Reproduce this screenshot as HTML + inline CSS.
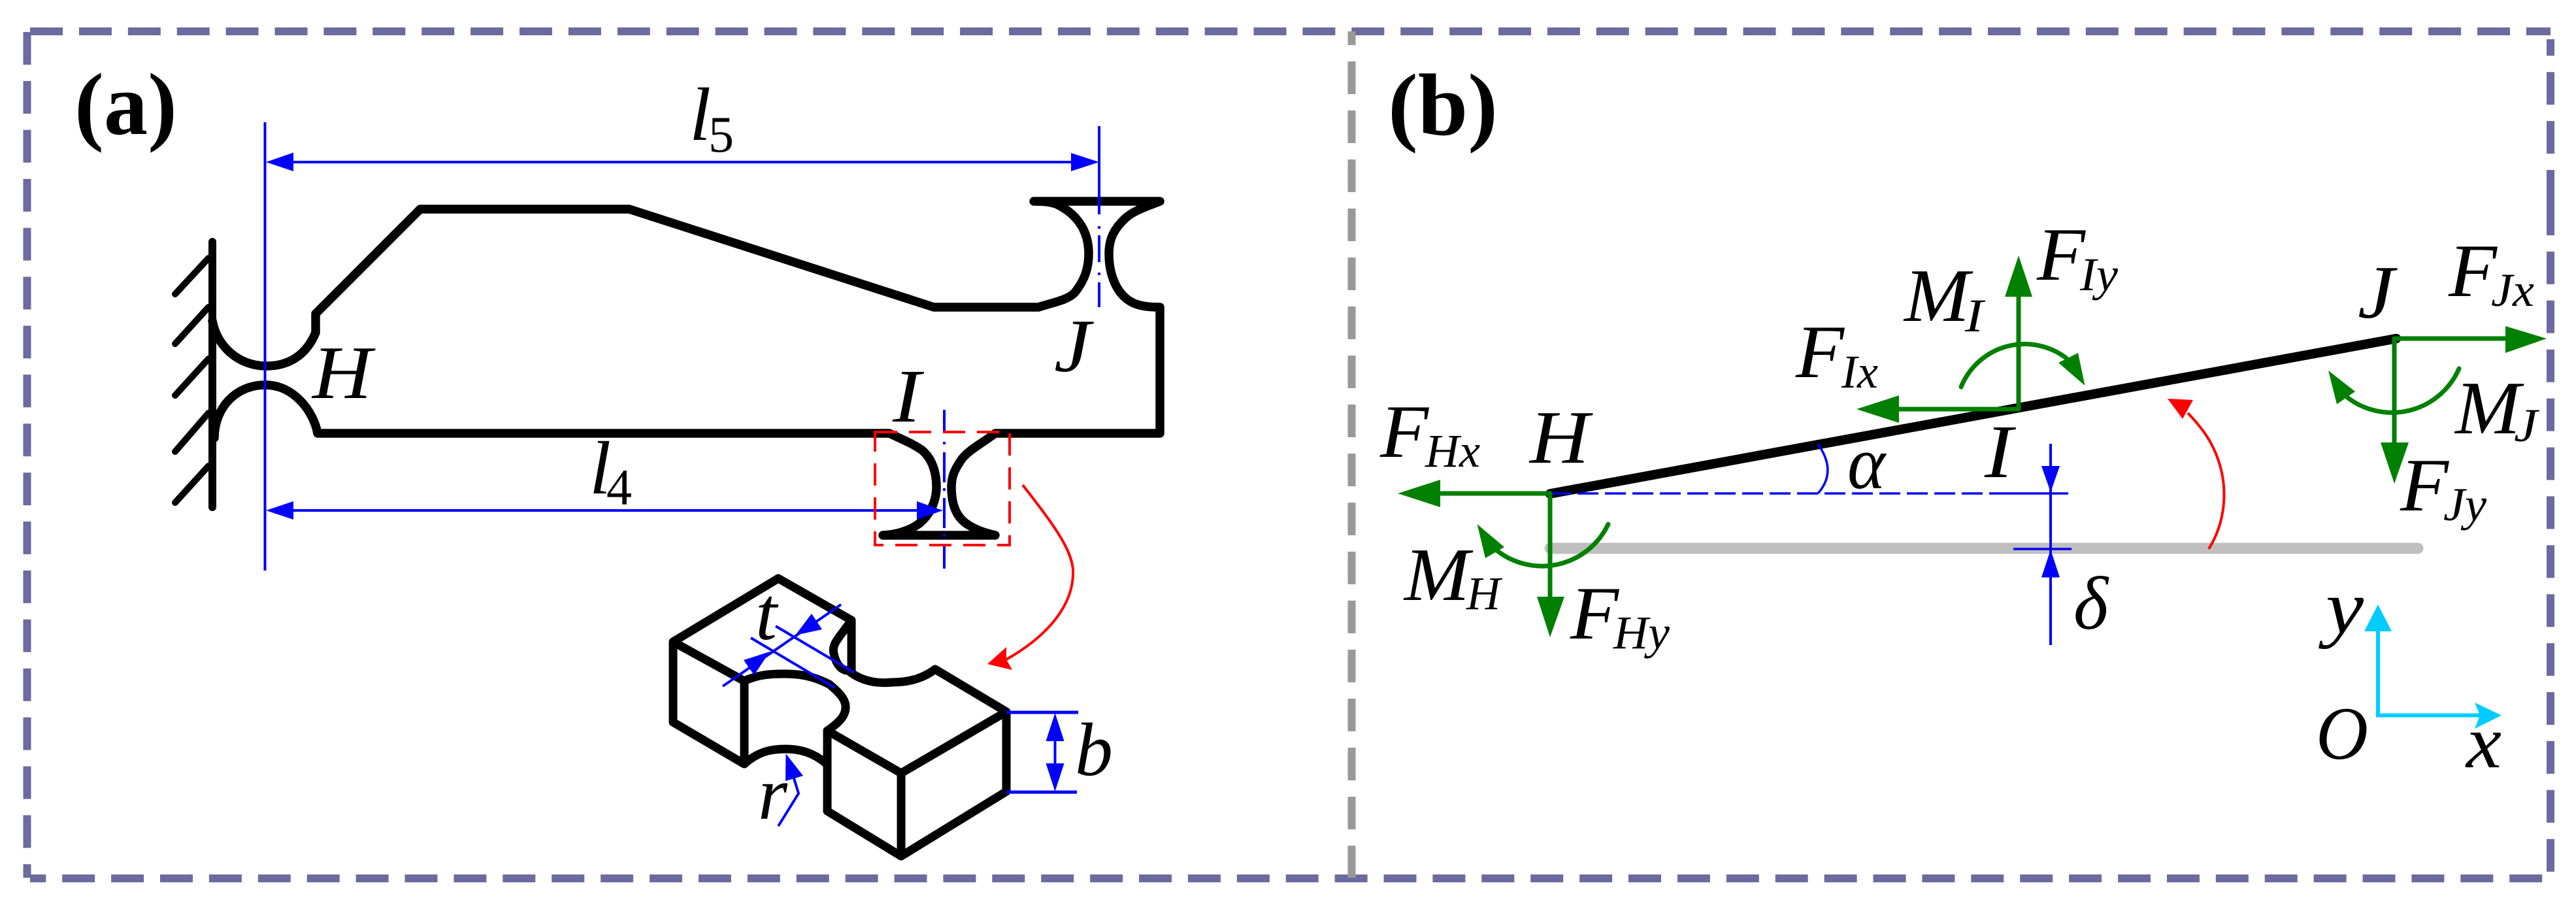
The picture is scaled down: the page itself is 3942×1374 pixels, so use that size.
<!DOCTYPE html>
<html><head><meta charset="utf-8"><style>
html,body{margin:0;padding:0;background:#fff}
svg{display:block}
text{font-family:"Liberation Serif","Times New Roman",Times,serif;fill:#000}
.i{font-style:italic;font-size:116px}
.s{font-style:italic;font-size:72px}
.n{font-size:78px}
.b{font-weight:bold;font-size:135px}
</style></head><body>
<svg xmlns="http://www.w3.org/2000/svg" width="3942" height="1374" viewBox="0 0 3942 1374" font-family="Liberation Serif, Times New Roman, Times, serif">
<rect width="3942" height="1374" fill="#fff"/>
<!-- frames -->
<g stroke="#6b6b9f" stroke-width="12" fill="none" stroke-dasharray="50 24.9">
<line x1="46" y1="48" x2="3903" y2="48"/>
<line x1="46" y1="1344" x2="3900" y2="1344" stroke-dashoffset="25.7"/>
<line x1="41.5" y1="49" x2="41.5" y2="1343"/>
<line x1="3903" y1="310" x2="3903" y2="1335"/>
<line x1="3903" y1="310" x2="3903" y2="60" />
</g>
<line x1="2068.5" y1="48" x2="2068.5" y2="1343" stroke="#999" stroke-width="12" stroke-dasharray="50 25" stroke-dashoffset="29" fill="none"/>

<!-- panel a labels -->
<text class="b" x="114" y="205" textLength="157" lengthAdjust="spacingAndGlyphs">(a)</text>
<text class="b" x="2124" y="206" textLength="168" lengthAdjust="spacingAndGlyphs">(b)</text>

<!-- wall -->
<g stroke="#000" stroke-width="10" stroke-linecap="round" fill="none">
<line x1="325" y1="370" x2="325" y2="776" stroke-width="12"/>
<line x1="319" y1="395" x2="268" y2="450"/>
<line x1="319" y1="470" x2="268" y2="526"/>
<line x1="319" y1="549" x2="268" y2="605"/>
<line x1="319" y1="632" x2="268" y2="691"/>
<line x1="319" y1="713" x2="268" y2="769"/>
</g>
<!-- flexure outline -->
<g stroke="#000" stroke-width="13.5" stroke-linecap="round" stroke-linejoin="round" fill="none">
<path d="M325 491 C332 530 365 560 408 560 C440 560 468 545 483 509 L483 480 L643 320 L963 320 L1429 470 L1589 470 C1615 462 1637 458 1646 446 C1660 428 1666 410 1666 388 C1666 355 1650 330 1622 315 C1612 309 1598 308 1582 308 L1775 308 C1755 316 1735 322 1722 334 C1705 350 1697 365 1697 388 C1697 420 1708 445 1725 458 C1738 468 1755 470 1775 470 L1775 663 L1523 663 C1500 680 1480 690 1470 705 C1460 720 1456 730 1456 745 C1456 770 1462 790 1480 802 C1495 812 1510 816 1523 819 L1351 819 C1375 818 1395 810 1408 800 C1425 785 1433 765 1433 745 C1433 720 1425 700 1410 688 C1395 678 1380 672 1361 663 L486 663 C480 630 450 589 406 589 C360 589 328 625 328 670"/>
</g>
<!-- blue dims a -->
<g stroke="#0000ff" stroke-width="4" fill="none">
<line x1="405.5" y1="187" x2="405.5" y2="873"/>
<line x1="440" y1="248" x2="1645" y2="248"/>
<line x1="1682" y1="193" x2="1682" y2="328"/>
<line x1="1682" y1="346" x2="1682" y2="350"/>
<line x1="1682" y1="360" x2="1682" y2="401"/>
<line x1="1682" y1="417" x2="1682" y2="421"/>
<line x1="1682" y1="432" x2="1682" y2="470"/>
<line x1="440" y1="781" x2="1410" y2="781"/>
<line x1="1445" y1="627" x2="1445" y2="662"/>
<line x1="1445" y1="676" x2="1445" y2="680"/>
<line x1="1445" y1="692" x2="1445" y2="738"/>
<line x1="1445" y1="747" x2="1445" y2="751"/>
<line x1="1445" y1="762" x2="1445" y2="808"/>
<line x1="1445" y1="817" x2="1445" y2="821"/>
<line x1="1445" y1="835" x2="1445" y2="870"/>
</g>
<g fill="#0000ff">
<polygon points="407,248 449,233.5 449,262"/>
<polygon points="1682,248 1639,234 1639,262"/>
<polygon points="407,781 449,767 449,795"/>
<polygon points="1443,781 1403,767 1403,795"/>
</g>
<!-- red box and arrow -->
<rect x="1339" y="661" width="206" height="173" fill="none" stroke="#ff0000" stroke-width="4" stroke-dasharray="34 18"/>
<path d="M1565 742 C1610 800 1645 845 1642 880 C1640 930 1600 975 1540 1009" fill="none" stroke="#ff0000" stroke-width="4"/>
<polygon points="1511,1016 1540,990 1540,1009 1549,1025" fill="#ff0000"/>
<!-- block -->
<g stroke="#000" stroke-width="13" stroke-linejoin="round" fill="none">
<path d="M1139 1042 L1030 982 L1191 885 L1303 949 C1285 975 1272 985 1276 1000 C1280 1020 1290 1026 1298 1026 C1320 1044 1345 1046 1365 1044 C1395 1044 1415 1036 1431 1024 L1540 1089 L1540 1211 L1379 1310 L1266 1241 L1266 1118 L1379 1183 L1540 1089"/>
<path d="M1030 982 L1030 1105 L1139 1169 L1139 1042 C1160 1032 1180 1031 1202 1031 C1235 1031 1255 1040 1269 1047 C1285 1060 1294 1070 1294 1082 C1294 1095 1285 1105 1266 1118"/>
<path d="M1139 1169 C1160 1150 1180 1146 1202 1146 C1225 1146 1245 1152 1264 1168"/>
<path d="M1303 949 L1303 1026"/>
<path d="M1379 1183 L1379 1310"/>
</g>
<!-- blue on block -->
<g stroke="#0000ff" stroke-width="4" fill="none">
<line x1="1187" y1="958" x2="1307" y2="1029"/>
<line x1="1149" y1="976" x2="1277" y2="1052"/>
<line x1="1106" y1="1050" x2="1287" y2="925"/>
<line x1="1540" y1="1090" x2="1650" y2="1090" stroke-width="5"/>
<line x1="1540" y1="1212" x2="1648" y2="1212" stroke-width="5"/>
<line x1="1614.5" y1="1130" x2="1614.5" y2="1170"/>
<polyline points="1191,1264 1222,1214 1215,1191"/>
</g>
<g fill="#0000ff">
<polygon points="1178,997 1138,1010 1154,1033"/>
<polygon points="1217,972 1242,939 1258,963"/>
<polygon points="1614.5,1091 1600.5,1134 1628.5,1134"/>
<polygon points="1614.5,1211 1600.5,1168 1628.5,1168"/>
<polygon points="1202.5,1153 1202,1195 1229,1187"/>
</g>

<!-- labels a -->
<text class="i" x="478" y="609" textLength="91" lengthAdjust="spacingAndGlyphs">H</text>
<text class="i" x="1055" y="214" textLength="33" lengthAdjust="spacingAndGlyphs">l</text><text class="n" x="1084" y="232" textLength="39" lengthAdjust="spacingAndGlyphs">5</text>
<text class="i" x="1613" y="568" textLength="56" lengthAdjust="spacingAndGlyphs">J</text>
<text class="i" x="1366" y="645" textLength="43" lengthAdjust="spacingAndGlyphs">I</text>
<text class="i" x="902" y="755" textLength="33" lengthAdjust="spacingAndGlyphs">l</text><text class="n" x="928" y="772" textLength="39" lengthAdjust="spacingAndGlyphs">4</text>
<text class="i" x="1156" y="978" textLength="33" lengthAdjust="spacingAndGlyphs">t</text>
<text class="i" x="1160" y="1253" textLength="45" lengthAdjust="spacingAndGlyphs">r</text>
<text class="i" x="1645" y="1186" textLength="58" lengthAdjust="spacingAndGlyphs">b</text>

<!-- panel b -->
<line x1="2372" y1="839" x2="3700" y2="839" stroke="#bfbfbf" stroke-width="17" stroke-linecap="round"/>
<line x1="2372" y1="755.5" x2="3667" y2="518" stroke="#000" stroke-width="14.5" stroke-linecap="round"/>
<!-- blue b -->
<g stroke="#0000ff" stroke-width="3.5" fill="none">
<line x1="2372" y1="755" x2="3071" y2="755" stroke-dasharray="32 10"/>
<line x1="3071" y1="755" x2="3165" y2="755"/>
<line x1="3081" y1="840" x2="3170" y2="840"/>
<line x1="3138" y1="679" x2="3138" y2="987" stroke-width="4"/>
<path d="M2781.5 679 Q2812 721 2782 755"/>
</g>
<g fill="#0000ff">
<polygon points="3138,753 3124,713 3152,713"/>
<polygon points="3138,841 3124,883.5 3152,883.5"/>
</g>
<!-- green -->
<g stroke="#008000" stroke-width="7" fill="none" stroke-linecap="round">
<line x1="2372" y1="755" x2="2200" y2="755"/>
<line x1="2372" y1="755" x2="2372" y2="918"/>
<path d="M2461 802 A112 112 0 0 1 2289 841"/>
<line x1="3089" y1="626" x2="2900" y2="626"/>
<line x1="3089" y1="626" x2="3089" y2="450"/>
<path d="M3001 592 A105 105 0 0 1 3162 548"/>
<line x1="3664" y1="518" x2="3840" y2="518"/>
<line x1="3664" y1="518" x2="3664" y2="680"/>
<path d="M3763 564 A112 112 0 0 1 3592 608"/>
</g>
<g fill="#008000">
<polygon points="2139,755 2204,734 2204,776"/>
<polygon points="2372,975 2352,913 2394,913"/>
<polygon points="2260.5,802 2302,837 2273,854"/>
<polygon points="2841,626 2906,605 2906,647"/>
<polygon points="3089,391 3068,454 3110,454"/>
<polygon points="3190.5,590 3150,555 3180,540"/>
<polygon points="3897,518 3834,499 3834,540"/>
<polygon points="3664,740 3643,677 3686,677"/>
<polygon points="3563,567 3604,599 3576,618.5"/>
</g>
<!-- red b -->
<path d="M3380 840 C3405 800 3410 750 3395 705 C3385 675 3370 655 3348 632" fill="none" stroke="#ff0000" stroke-width="4"/>
<polygon points="3317,610 3356,612 3340,641" fill="#ff0000"/>
<!-- cyan axes -->
<g stroke="#00ccff" stroke-width="6" fill="none">
<polyline points="3639,960 3639,1094.5 3795,1094.5"/>
</g>
<g fill="#00ccff">
<polygon points="3639,925 3618,966 3660,966"/>
<polygon points="3828,1094.5 3787,1075 3795,1094.5 3787,1115"/>
</g>

<!-- labels b -->
<text class="i" x="2112" y="699" textLength="74" lengthAdjust="spacingAndGlyphs">F</text><text class="s" x="2181" y="714" textLength="84" lengthAdjust="spacingAndGlyphs">Hx</text>
<text class="i" x="2341" y="708" textLength="91" lengthAdjust="spacingAndGlyphs">H</text>
<text class="i" x="2748" y="577" textLength="74" lengthAdjust="spacingAndGlyphs">F</text><text class="s" x="2818" y="593" textLength="56" lengthAdjust="spacingAndGlyphs">Ix</text>
<text class="i" x="2914" y="491" textLength="100" lengthAdjust="spacingAndGlyphs">M</text><text class="s" x="3007" y="507" textLength="28" lengthAdjust="spacingAndGlyphs">I</text>
<text class="i" x="2149" y="918" textLength="100" lengthAdjust="spacingAndGlyphs">M</text><text class="s" x="2244" y="932" textLength="52" lengthAdjust="spacingAndGlyphs">H</text>
<text class="i" x="2403" y="977" textLength="74" lengthAdjust="spacingAndGlyphs">F</text><text class="s" x="2469" y="992" textLength="86" lengthAdjust="spacingAndGlyphs">Hy</text>
<text class="i" x="3037" y="730" textLength="43" lengthAdjust="spacingAndGlyphs">I</text>
<text class="i" x="3117" y="428" textLength="74" lengthAdjust="spacingAndGlyphs">F</text><text class="s" x="3183" y="444" textLength="58" lengthAdjust="spacingAndGlyphs">Iy</text>
<text class="i" x="3608" y="486" textLength="56" lengthAdjust="spacingAndGlyphs">J</text>
<text class="i" x="3747" y="453" textLength="74" lengthAdjust="spacingAndGlyphs">F</text><text class="s" x="3812" y="468" textLength="66" lengthAdjust="spacingAndGlyphs">Jx</text>
<text class="i" x="3757" y="663" textLength="100" lengthAdjust="spacingAndGlyphs">M</text><text class="s" x="3847" y="675" textLength="36" lengthAdjust="spacingAndGlyphs">J</text>
<text class="i" x="3673" y="781" textLength="74" lengthAdjust="spacingAndGlyphs">F</text><text class="s" x="3739" y="796" textLength="66" lengthAdjust="spacingAndGlyphs">Jy</text>
<text class="i" x="2827" y="747" textLength="58" lengthAdjust="spacingAndGlyphs">α</text>
<text class="i" x="3173" y="962" textLength="53" lengthAdjust="spacingAndGlyphs">δ</text>
<text class="i" x="3559" y="968" textLength="58" lengthAdjust="spacingAndGlyphs">y</text>
<text class="i" x="3544" y="1161" textLength="80" lengthAdjust="spacingAndGlyphs">O</text>
<text class="i" x="3774" y="1174" textLength="54" lengthAdjust="spacingAndGlyphs">x</text>
</svg>
</body></html>
